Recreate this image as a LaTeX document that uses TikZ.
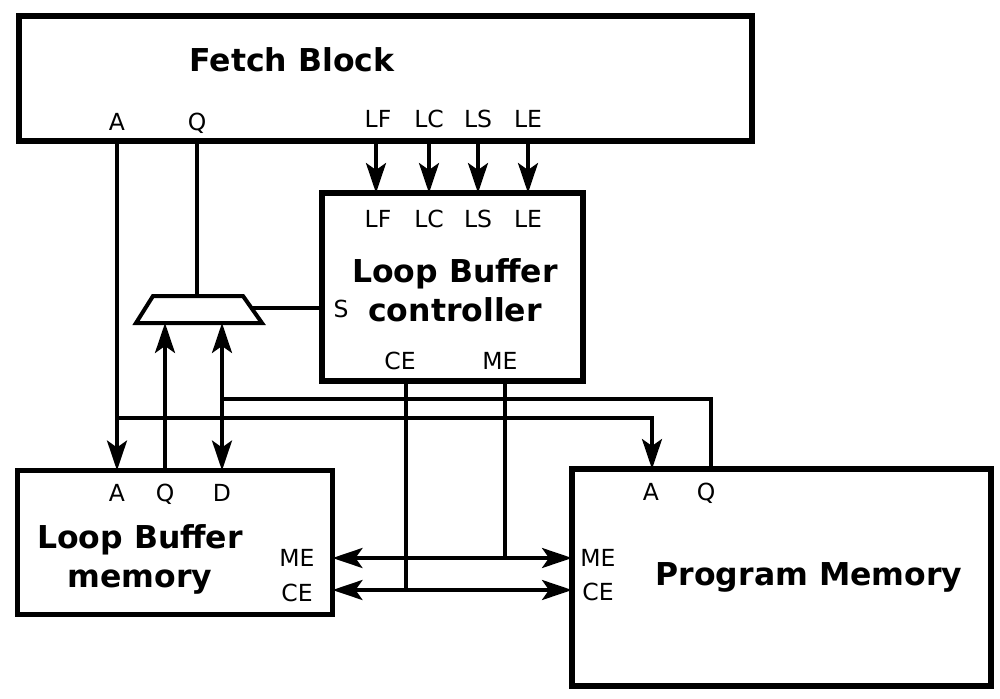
\documentclass[tikz,border=0pt]{standalone}
\usepackage{fontspec}
\setmainfont{DejaVu Sans}
\usetikzlibrary{arrows.meta}
\begin{document}
\begin{tikzpicture}[x=1pt,y=-1pt,
  >={Stealth[length=30pt,width=20pt,inset=7pt]},
  box/.style={draw, line width=5.5pt, rectangle, inner sep=0pt, outer sep=0pt},
  wire/.style={line width=3.5pt},
  arr/.style={wire, ->},
  darr/.style={wire, <->},
  pin/.style={font=\fontsize{23.5}{28}\selectfont, anchor=base, inner sep=0pt},
  title/.style={font=\fontsize{31.5}{39}\selectfont\bfseries, align=center, inner sep=0pt}
]
\useasboundingbox (0,0) rectangle (1000,698);

% blocks
\node[box, minimum width=733pt, minimum height=125pt] (fetch) at (385.5,78.5) {};
\node[box, minimum width=261pt, minimum height=188pt] (ctrl) at (452.5,287) {};
\node[box, minimum width=315pt, minimum height=144pt] (lbm) at (175,542.5) {};
\node[box, minimum width=419pt, minimum height=217pt] (pm) at (781.5,577.5) {};

% mux
\draw[line width=4pt, line join=miter] (136,323) coordinate (muxbl) -- (153,296) coordinate (muxtl)
  -- (243,296) coordinate (muxtr) -- (262,323) coordinate (muxbr) -- cycle;
\coordinate (muxS) at (251,308);

% x / y positions of pins and buses
\coordinate (xA) at (117,0);
\coordinate (xQ) at (197,0);
\coordinate (xLQ) at (165,0);
\coordinate (xD) at (222,0);
\coordinate (xLF) at (376,0);
\coordinate (xLC) at (429,0);
\coordinate (xLS) at (478,0);
\coordinate (xLE) at (528,0);
\coordinate (xCE) at (406,0);
\coordinate (xME) at (505,0);
\coordinate (xPA) at (652,0);
\coordinate (xPQ) at (711,0);
\coordinate (yAb) at (0,418);
\coordinate (yDb) at (0,399);
\coordinate (yME) at (0,558);
\coordinate (yCE) at (0,590);

% connectors
\draw[wire] (fetch.south -| xQ) -- (muxtl -| xQ);
\draw[wire] (muxS) -- (ctrl.west |- muxS);
\draw[arr] (fetch.south -| xA) -- (lbm.north -| xA);
\draw[arr] (xA |- yAb) -| (pm.north -| xPA);
\draw[arr] (lbm.north -| xLQ) -- (muxbl -| xLQ);
\draw[darr] (lbm.north -| xD) -- (muxbl -| xD);
\draw[wire] (xD |- yDb) -| (pm.north -| xPQ);
\foreach \p in {xLF,xLC,xLS,xLE}
  \draw[arr] (fetch.south -| \p) -- (ctrl.north -| \p);
\draw[wire] (ctrl.south -| xCE) -- (xCE |- yCE);
\draw[wire] (ctrl.south -| xME) -- (xME |- yME);
\draw[darr] (lbm.east |- yME) -- (pm.west |- yME);
\draw[darr] (lbm.east |- yCE) -- (pm.west |- yCE);

% Fetch block texts
\node[title] (tfetch) at (292,60) {Fetch Block};
\node[pin] (fA) at (117,131) {A};
\node[pin] (fQ) at (197,131) {Q};
\node[pin] (fLF) at (378,128) {LF};
\node[pin] (fLC) at (429,128) {LC};
\node[pin] (fLS) at (478,128) {LS};
\node[pin] (fLE) at (528,128) {LE};

% controller texts
\node[title] (tctrl) at (455,290) {Loop Buffer\\controller};
\node[pin] (cLF) at (378,227) {LF};
\node[pin] (cLC) at (429,227) {LC};
\node[pin] (cLS) at (478,227) {LS};
\node[pin] (cLE) at (528,227) {LE};
\node[pin] (cCE) at (400,369) {CE};
\node[pin] (cME) at (500,369) {ME};
\node[pin] (cS) at (341,317) {S};

% loop buffer memory texts
\node[title] (tlbm) at (140,559) {Loop Buffer\\memory};
\node[pin] (mA) at (117,501) {A};
\node[pin] (mQ) at (165,501) {Q};
\node[pin] (mD) at (222,501) {D};
\node[pin] (mME) at (297,566) {ME};
\node[pin] (mCE) at (297,601) {CE};

% program memory texts
\node[title] (tpm) at (809,577) {Program Memory};
\node[pin] (pA) at (651,500) {A};
\node[pin] (pQ) at (706,500) {Q};
\node[pin] (pME) at (598,566) {ME};
\node[pin] (pCE) at (598,600) {CE};
\end{tikzpicture}
\end{document}
